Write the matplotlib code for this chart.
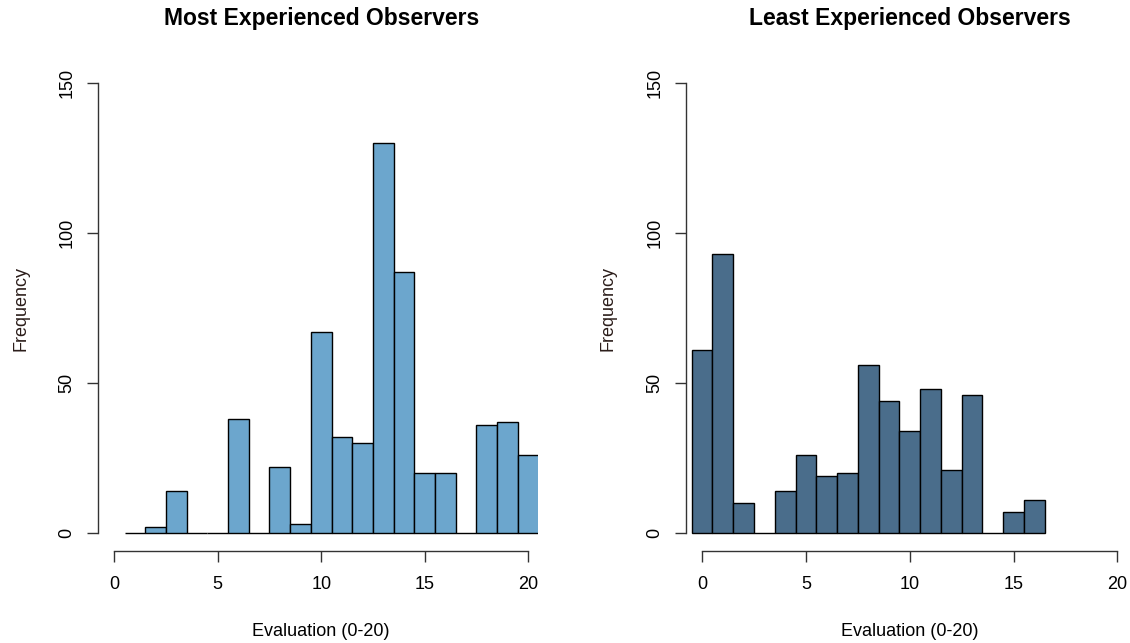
import matplotlib
matplotlib.use("Agg")
import matplotlib.pyplot as plt
from matplotlib.patches import Rectangle

plt.rcParams['font.family'] = ['Liberation Sans', 'DejaVu Sans']

# Datos: frecuencias por nota (0-20)
notas_exp = list(range(1, 21))
frec_exp = [0, 2, 14, 0, 0, 38, 0, 22, 3, 67, 32, 30, 130, 87, 20, 20, 0, 36, 37, 26]

notas_novato = list(range(0, 17))
frec_novato = [61, 93, 10, 0, 14, 26, 19, 20, 56, 44, 34, 48, 21, 46, 0, 7, 11]

titulos = ["Most Experienced Observers", "Least Experienced Observers"]
colores = ["#6CA6CD", "#4A6D8B"]
x_ticks = [0, 5, 10, 15, 20]
y_ticks = [0, 50, 100, 150]

W, H = 1130, 643
fig = plt.figure(figsize=(W / 100, H / 100), dpi=100)

# posiciones en pixeles: (izquierda, ancho, limite de recorte en x)
paneles = [
    (97.6, 447.2, 20.45, notas_exp, frec_exp),
    (685.5, 448.6, 20.8, notas_novato, frec_novato),
]
y_top, y_bot = 64.7, 551.3

for i, (px, pw, clip_x, notas, frec) in enumerate(paneles):
    ax = fig.add_axes([px / W, (H - y_bot) / H, pw / W, (y_bot - y_top) / H])
    barras = ax.bar(notas, frec, width=1.0, color=colores[i],
                    edgecolor="black", linewidth=1.0)
    clip = Rectangle((-0.8, -6), clip_x + 0.8, 162, transform=ax.transData)
    for b in barras:
        b.set_clip_path(clip)
    ax.set_xlim(-0.8, 20.8)
    ax.set_ylim(-6, 156)

    for lado in ["top", "right"]:
        ax.spines[lado].set_visible(False)
    ax.spines["left"].set_bounds(0, 150)
    ax.spines["bottom"].set_bounds(0, 20)
    for lado in ["left", "bottom"]:
        ax.spines[lado].set_color("#333333")
        ax.spines[lado].set_linewidth(1.0)

    ax.set_xticks(x_ticks)
    ax.set_yticks(y_ticks)
    ax.set_yticklabels([str(v) for v in y_ticks], rotation=90, va="center")
    ax.tick_params(axis="both", direction="out", length=8, width=1.0,
                   color="#333333", labelsize=13)
    ax.tick_params(axis="x", pad=10)
    ax.tick_params(axis="y", pad=8)

    centro = px + pw / 2
    fig.text(centro / W, 1 - 19 / H, titulos[i], ha="center", va="center",
             fontsize=16.5, fontweight="bold")
    fig.text(centro / W, 1 - 632 / H, "Evaluation (0-20)", ha="center",
             va="center", fontsize=13)
    fig.text((px - 77) / W, 1 - 308 / H, "Frequency", ha="center",
             va="center", rotation=90, fontsize=13, color="#2b1d1a")

fig.savefig("out.png", dpi=100)
